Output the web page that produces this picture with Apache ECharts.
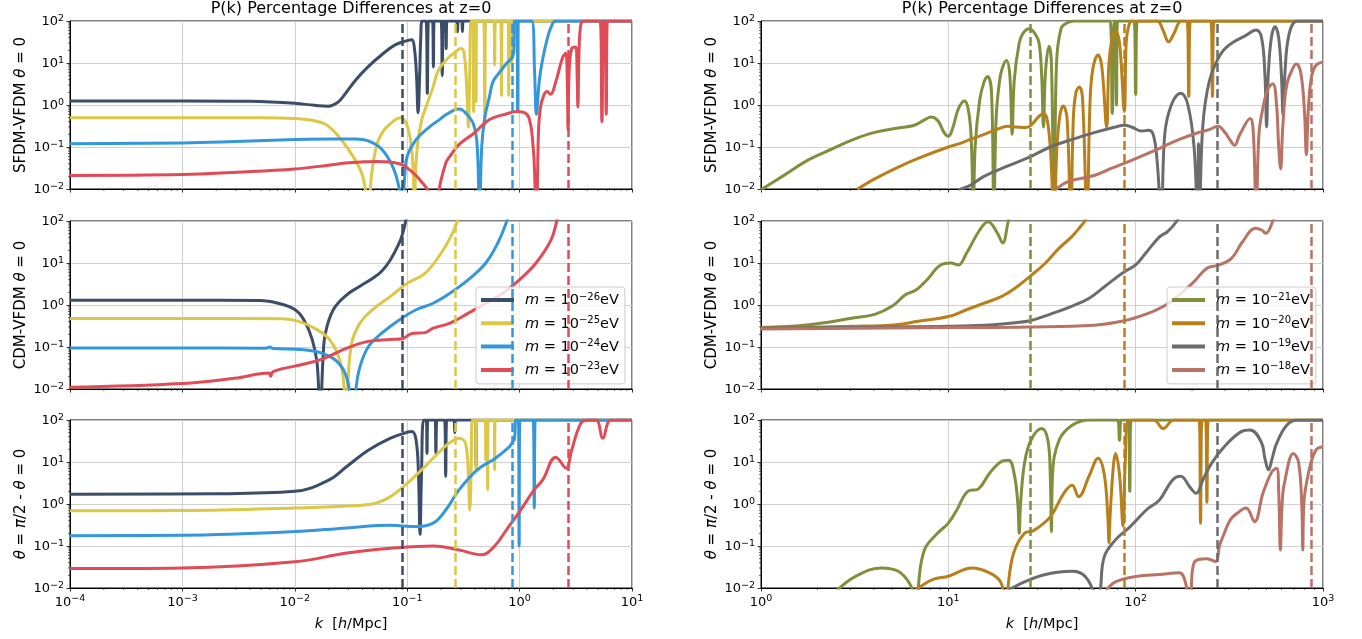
<!DOCTYPE html>
<html><head><meta charset="utf-8">
<script src="https://cdn.jsdelivr.net/npm/echarts@6/dist/echarts.min.js"></script>
<style>html,body{margin:0;padding:0;background:#fff}#c{width:1362px;height:639px}</style>
</head><body><div id="c"></div>
<script>
// ---------------- DATA (k [h/Mpc], percentage difference) ----------------
const massExpLeft = [-26, -25, -24, -23];
const massExpRight = [-21, -20, -19, -18];
const kJeansLeft = [0.0865, 0.273, 0.865, 2.73];
const kJeansRight = [27.3, 86.5, 273, 865];
const titleText = 'P(k) Percentage Differences at z=0';

// Row 1: SFDM-VFDM theta=0
const sfdm26 = [[1e-4,1.25],[1e-3,1.25],[4e-3,1.22],[0.01,1.1],[0.015,0.98],[0.02,0.94],[0.024,1.15],[0.027,1.6],[0.035,4],[0.045,8.2],[0.059,15.5],[0.078,27],[0.1,34],[0.11,36],[0.116,22],[0.121,5],[0.125,0.65],[0.129,5],[0.132,40],[0.136,100],[0.147,100],[0.151,1.9],[0.155,100],[0.168,100],[0.171,8],[0.174,100],[0.2,100],[0.205,5],[0.21,100],[0.218,100],[0.222,22],[0.226,100],[0.275,100],[0.28,55],[0.285,100],[0.305,100],[0.31,56],[0.315,100],[10,100]];
const sfdm25 = [[1e-4,0.5],[1e-3,0.5],[5e-3,0.5],[0.01,0.48],[0.015,0.42],[0.02,0.31],[0.029,0.1],[0.038,0.03],[0.042,0.012],[0.045,0.002],[0.048,0.02],[0.054,0.12],[0.062,0.25],[0.071,0.36],[0.08,0.46],[0.088,0.5],[0.095,0.43],[0.1,0.32],[0.107,0.15],[0.113,0.03],[0.116,0.002],[0.119,0.03],[0.125,0.15],[0.135,0.45],[0.144,0.77],[0.17,2.7],[0.19,6.8],[0.23,13],[0.26,17],[0.3,22],[0.32,18],[0.34,2],[0.35,0.3],[0.36,5],[0.37,100],[0.385,100],[0.39,0.7],[0.395,100],[0.405,100],[0.41,1.2],[0.415,100],[0.48,100],[0.49,0.33],[0.5,100],[0.59,100],[0.6,9],[0.61,100],[0.68,100],[0.69,1.7],[0.7,100],[0.79,100],[0.8,1.7],[0.81,100],[0.845,100],[0.85,10],[0.855,100],[10,100]];
const sfdm24 = [[1e-4,0.12],[1e-3,0.125],[3e-3,0.135],[0.01,0.15],[0.02,0.155],[0.035,0.155],[0.045,0.14],[0.059,0.09],[0.074,0.035],[0.085,0.01],[0.09,0.002],[0.095,0.02],[0.1,0.06],[0.12,0.15],[0.16,0.31],[0.19,0.43],[0.22,0.58],[0.29,0.8],[0.33,0.65],[0.39,0.34],[0.42,0.1],[0.44,0.002],[0.46,0.1],[0.49,0.5],[0.54,1.6],[0.58,3.6],[0.67,6.2],[0.77,10],[0.85,13],[0.89,20],[0.9,100],[0.95,100],[0.96,0.7],[0.97,100],[1.28,100],[1.36,6],[1.41,0.6],[1.5,4],[1.6,12],[1.75,35],[1.9,70],[2.1,100],[10,100]];
const sfdm23 = [[1e-4,0.021],[1e-3,0.022],[3e-3,0.025],[0.01,0.03],[0.02,0.037],[0.03,0.042],[0.055,0.045],[0.085,0.04],[0.11,0.026],[0.14,0.013],[0.16,0.007],[0.175,0.0005],[0.19,0.008],[0.22,0.041],[0.24,0.06],[0.29,0.115],[0.39,0.21],[0.54,0.45],[0.77,0.62],[0.95,0.7],[1.16,0.6],[1.25,0.35],[1.29,0.2],[1.35,0.04],[1.41,0.001],[1.47,0.2],[1.53,0.84],[1.64,1.7],[1.76,2.1],[1.88,1.8],[2.1,3.6],[2.4,13],[2.57,17],[2.65,5],[2.7,0.25],[2.75,5],[2.9,22],[3.16,24],[3.25,5],[3.3,0.9],[3.38,20],[3.5,80],[3.7,100],[5.2,100],[5.4,0.4],[5.6,100],[5.75,100],[5.9,0.6],[6.05,100],[10,100]];
const sfdm21 = [[1,0.0096],[1.3,0.02],[1.8,0.05],[2.4,0.09],[3.1,0.15],[4,0.22],[5.3,0.28],[6.6,0.33],[7.5,0.45],[8.1,0.52],[8.8,0.42],[9.5,0.22],[10,0.18],[10.6,0.3],[11.3,0.8],[12.2,1.25],[12.9,0.6],[13.3,0.1],[13.6,0.002],[13.9,0.1],[14.7,1.3],[15.5,3.5],[16.2,4.8],[17,2],[17.5,0.002],[18,0.5],[18.8,4],[19.5,8],[20.4,11.5],[21.3,5],[21.9,0.2],[22.5,4],[23.9,30],[25,50],[27,65],[29,50],[30.5,30],[31.5,5],[32.2,0.3],[33,6],[34.5,25],[35.5,10],[36.7,0.002],[37.8,10],[40,67],[43,90],[47,100],[73,100],[75,0.63],[77,100],[78,100],[79,1],[80,100],[98,100],[100,1.8],[102,100],[1000,100]];
const sfdm20 = [[3.26,0.0098],[4,0.017],[5.3,0.032],[7,0.055],[10,0.1],[11.5,0.12],[13,0.15],[15.5,0.2],[18,0.26],[20.8,0.31],[23,0.3],[26,0.29],[28,0.35],[30,0.5],[32,0.62],[33.5,0.5],[35,0.1],[36.7,0.002],[38,0.1],[39.5,0.6],[41,0.95],[43,0.5],[45,0.002],[46.5,0.5],[48,2],[50,2.7],[52,1.5],[55,0.002],[57,1],[59,7],[63,15.5],[66,8],[70,0.3],[72,10],[75,40],[78,56],[82,30],[87,0.7],[89,30],[92,80],[96,100],[130,100],[140,60],[150,32],[160,50],[175,100],[188,100],[192,1.6],[196,100],[252,100],[257,1.6],[262,100],[1000,100]];
const sfdm19 = [[11.3,0.0095],[13,0.012],[15.5,0.02],[20,0.033],[26.5,0.055],[35,0.1],[45.5,0.15],[60,0.22],[78,0.3],[87,0.33],[95,0.3],[108,0.24],[117,0.25],[124,0.2],[130,0.05],[137,0.002],[143,0.2],[155,1],[174,1.9],[190,1],[205,0.1],[214,0.002],[216.5,0.12],[219,0.002],[228,0.3],[247,3.6],[281,15],[316,27],[390,46],[438,61],[470,40],[490,5],[500,0.3],[510,5],[530,40],[555,73],[580,40],[600,5],[612,0.58],[625,5],[660,50],[730,100],[1000,100]];
const sfdm18 = [[37.6,0.0098],[43.6,0.015],[60,0.021],[74,0.031],[91.5,0.045],[139,0.1],[170,0.15],[209,0.21],[247,0.26],[275,0.31],[300,0.22],[318,0.15],[337,0.11],[360,0.2],[408,0.48],[425,0.2],[440,0.002],[455,0.2],[479,0.9],[510,2.5],[540,3.2],[565,1],[580,0.1],[594,0.03],[610,0.3],[640,3],[690,7.5],[720,9.5],[760,6],[795,0.8],[815,0.065],[835,0.8],[870,5],[920,9],[1000,10.5]];

// Row 2: CDM-VFDM theta=0
const cdm26 = [[1e-4,1.3],[1e-3,1.3],[4.9e-3,1.28],[7.1e-3,1.1],[0.01,0.78],[0.012,0.45],[0.0143,0.15],[0.0158,0.04],[0.0168,0.002],[0.0178,0.05],[0.0187,0.21],[0.022,0.77],[0.029,1.75],[0.038,2.8],[0.049,4.3],[0.059,6.3],[0.071,12],[0.085,30],[0.092,55],[0.097,100],[0.105,250]];
const cdm25 = [[1e-4,0.48],[1e-3,0.48],[7.7e-3,0.47],[0.01,0.43],[0.0143,0.3],[0.0204,0.15],[0.0255,0.041],[0.0275,0.01],[0.0285,0.002],[0.0295,0.01],[0.032,0.12],[0.038,0.37],[0.049,0.77],[0.071,1.6],[0.1,3.3],[0.144,5.7],[0.2,17],[0.24,39],[0.28,100],[0.3,250]];
const cdm24 = [[1e-4,0.095],[1e-3,0.095],[5.5e-3,0.094],[6e-3,0.1],[6.4e-3,0.092],[0.012,0.086],[0.0204,0.06],[0.027,0.029],[0.031,0.008],[0.033,0.002],[0.035,0.01],[0.038,0.034],[0.045,0.1],[0.059,0.21],[0.085,0.44],[0.12,0.77],[0.17,1.1],[0.24,1.9],[0.35,4],[0.5,10],[0.64,30],[0.77,100],[0.85,250]];
const cdm23 = [[1e-4,0.011],[1e-3,0.0135],[2.9e-3,0.018],[5.9e-3,0.024],[6.1e-3,0.02],[6.4e-3,0.026],[0.01,0.035],[0.017,0.05],[0.029,0.094],[0.045,0.136],[0.071,0.15],[0.092,0.16],[0.11,0.21],[0.144,0.22],[0.17,0.28],[0.24,0.37],[0.35,0.64],[0.5,1.1],[0.71,1.9],[1,4],[1.4,10],[1.9,35],[2.14,100],[2.3,250]];
const cdm21 = [[1,0.29],[1.8,0.34],[3.1,0.49],[4.05,0.6],[5,0.93],[5.9,1.75],[6.75,2.3],[7.7,4],[9.1,9],[10.3,10],[11.3,9],[12.5,17],[14.7,61],[16.3,96],[18.3,51],[19.5,30],[20.9,100],[22,250]];
const cdm20 = [[1,0.28],[3.1,0.31],[5.3,0.34],[6.9,0.41],[10,0.53],[12.5,0.77],[15.5,1.1],[19.3,1.6],[22.7,2.5],[27.3,4.8],[33,10],[38.8,22],[45.5,42],[50.7,73],[53.5,100],[56,160]];
const cdm19 = [[1,0.28],[5.3,0.3],[10,0.31],[15.5,0.33],[22.7,0.38],[27.3,0.42],[34.8,0.6],[45.5,0.93],[56.5,1.45],[70,3],[87,6.2],[100,9],[113,17],[134,42],[148,56],[166,100],[175,160]];
const cdm18 = [[1,0.27],[10,0.29],[27,0.3],[60,0.33],[87,0.42],[113,0.6],[141,0.93],[175,1.9],[205,3.6],[240,7.5],[279,9],[325,13],[372,32],[436,67],[470,61],[495,51],[540,100],[560,160]];

// Row 3: theta = pi/2 - theta = 0
const theta26 = [[1e-4,1.7],[2e-3,1.75],[0.01,2],[0.02,3.7],[0.029,7.8],[0.045,19],[0.071,37],[0.1,51],[0.11,53],[0.12,33],[0.126,5],[0.13,0.19],[0.134,5],[0.14,100],[0.148,100],[0.15,16],[0.153,100],[0.177,100],[0.18,16],[0.184,100],[0.215,100],[0.22,4.5],[0.225,100],[0.26,100],[0.265,50],[0.27,100],[0.405,100],[0.41,7.8],[0.415,100],[10,100]];
const theta25 = [[1e-4,0.69],[1e-3,0.7],[0.01,0.8],[0.029,0.9],[0.049,1],[0.071,1.5],[0.1,3.1],[0.144,7.8],[0.2,19],[0.24,29],[0.29,37],[0.33,28],[0.35,5],[0.36,0.72],[0.37,5],[0.38,100],[0.405,100],[0.41,6.5],[0.415,100],[0.495,100],[0.5,11],[0.505,100],[0.515,100],[0.52,2.2],[0.525,100],[0.595,100],[0.6,6.5],[0.605,100],[10,100]];
const theta24 = [[1e-4,0.175],[1e-3,0.18],[0.01,0.22],[0.029,0.27],[0.071,0.31],[0.12,0.29],[0.17,0.35],[0.22,0.72],[0.29,2.2],[0.42,6.5],[0.6,12],[0.81,23],[0.87,30],[0.9,35],[0.93,100],[0.975,100],[0.99,0.1],[1.005,100],[1.32,100],[1.35,0.8],[1.38,100],[10,100]];
const theta23 = [[1e-4,0.029],[1e-3,0.03],[0.01,0.042],[0.029,0.068],[0.071,0.088],[0.17,0.1],[0.29,0.08],[0.46,0.062],[0.6,0.1],[0.77,0.25],[1,0.66],[1.35,2.2],[1.6,3.7],[2.1,13],[2.6,7.1],[2.9,19],[3.5,83],[4,100],[4.8,100],[5.5,37],[6.5,100],[10,100]];
const theta21 = [[2.56,0.009],[3.2,0.019],[4.4,0.03],[5.4,0.025],[6.2,0.013],[6.6,0.006],[6.75,0.002],[6.9,0.01],[7.45,0.08],[8.75,0.2],[10,0.35],[11.1,0.72],[12.7,2],[14.5,2.3],[16.6,5.4],[19,10],[21,11],[22.5,5],[23.5,1],[23.9,0.2],[24.3,1],[25.5,9.3],[27.6,33],[31.5,63],[34,33],[35,5],[35.5,0.22],[36,5],[39,33],[46,76],[56.5,100],[80,100],[82,33],[84,100],[91.5,100],[93,2],[94.5,100],[1000,100]];
const theta20 = [[6.7,0.009],[8.3,0.016],[10,0.019],[13.4,0.03],[16.6,0.023],[19,0.014],[20,0.005],[20.3,0.002],[20.8,0.01],[22.3,0.067],[25.5,0.2],[28.4,0.23],[35.1,0.5],[41.3,1.8],[45.8,2.8],[49.6,1.5],[56.5,4.7],[63,12.3],[68,5],[71,0.5],[72,0.12],[73,0.5],[76,8],[78,16],[82,5],[85.6,0.3],[88,10],[92,100],[125,100],[140,63],[160,100],[218,100],[222,0.35],[226,100],[236,100],[240,1.1],[244,100],[1000,100]];
const theta19 = [[21,0.009],[25.5,0.014],[33,0.021],[45.8,0.025],[53.6,0.019],[60,0.007],[62.5,0.002],[65,0.01],[68,0.056],[78,0.14],[92,0.27],[114,0.72],[134,1.25],[157,3.7],[174,4.6],[195,2.5],[210,1.8],[230,4],[254,9.3],[297,23],[366,53],[408,58],[468,30],[490,12],[512,6.5],[535,12],[566,28],[642,76],[730,100],[1000,100]];
const theta18 = [[70,0.009],[78,0.014],[102,0.019],[134,0.021],[171,0.023],[184,0.014],[190,0.005],[194,0.002],[198,0.01],[205,0.04],[240,0.05],[267,0.043],[280,0.1],[297,0.2],[320,0.42],[348,0.6],[388,0.8],[431,0.38],[478,1.8],[534,5.9],[566,7.1],[580,2],[592,0.08],[605,1],[622,3.1],[695,16],[740,10],[770,1],[780,0.08],[790,1],[836,5.4],[915,19],[1000,23]];

// ---------------- CHART ----------------
const FONT = 'DejaVu Sans';
const colorsLeft = ['#3b4d69', '#dcc747', '#3597db', '#e14b56'];
const colorsRight = ['#7f8f3b', '#b97f1b', '#6c6c6c', '#b97364'];
const rowsData = [
  [[sfdm26, sfdm25, sfdm24, sfdm23], [sfdm21, sfdm20, sfdm19, sfdm18]],
  [[cdm26, cdm25, cdm24, cdm23], [cdm21, cdm20, cdm19, cdm18]],
  [[theta26, theta25, theta24, theta23], [theta21, theta20, theta19, theta18]]
];
const colLeft = [70, 761], colW = 562, rowTop = [21, 221, 420], rowH = 168;
const xRange = [[1e-4, 10], [1, 1000]];
const exps = [massExpLeft, massExpRight];
const cols = [colorsLeft, colorsRight];
const kj = [kJeansLeft, kJeansRight];
const nameOf = e => 'm' + e;
const minus = e => (e < 0 ? '\u2212' + (-e) : '' + e);

const tickRich = {
  b: {fontSize: 13, fontFamily: FONT, color: '#000', lineHeight: 15, verticalAlign: 'bottom'},
  s: {fontSize: 9.5, fontFamily: FONT, color: '#000', lineHeight: 11, padding: [0, 0, 7, 0], verticalAlign: 'top'}
};
const tickFmt = v => { const e = Math.round(Math.log10(v)); return '{b|10}{s|' + minus(e) + '}'; };

const grids = [], xAxes = [], yAxes = [], series = [];
const yNames = [
  'SFDM-VFDM {i|θ} = 0',
  'CDM-VFDM {i|θ} = 0',
  '{i|θ} = {i|π}/2 - {i|θ} = 0'
];
for (let r = 0; r < 3; r++) {
  for (let c = 0; c < 2; c++) {
    const gi = r * 2 + c;
    grids.push({left: colLeft[c], top: rowTop[r], width: colW, height: rowH, show: true,
      borderColor: '#000', borderWidth: 1, backgroundColor: 'transparent', outerBoundsMode: 'none', containLabel: false});
    xAxes.push({type: 'log', logBase: 10, gridIndex: gi, min: xRange[c][0], max: xRange[c][1],
      axisLine: {show: true, onZero: false, lineStyle: {color: '#000', width: 1}},
      axisTick: {show: true, length: 3.5, inside: false, lineStyle: {color: '#000', width: 0.8}},
      minorTick: {show: false}, minorSplitLine: {show: false},
      axisLabel: {show: r === 2, formatter: tickFmt, rich: tickRich, margin: 6, showMinLabel: true, showMaxLabel: true, hideOverlap: false},
      splitLine: {show: true, lineStyle: {color: '#cbcbcb', width: 0.9}},
      name: r === 2 ? '{i|k}  [{i|h}/Mpc]' : '', nameLocation: 'middle', nameGap: 29,
      nameTextStyle: {fontSize: 14.5, fontFamily: FONT, color: '#000',
        rich: {i: {fontStyle: 'italic', fontSize: 14.5, fontFamily: FONT, color: '#000'}}}
    });
    yAxes.push({type: 'log', logBase: 10, gridIndex: gi, min: 0.01, max: 100,
      axisLine: {show: true, onZero: false, lineStyle: {color: '#000', width: 1}},
      axisTick: {show: true, length: 3.5, inside: false, lineStyle: {color: '#000', width: 0.8}},
      minorTick: {show: false}, minorSplitLine: {show: false},
      axisLabel: {show: true, formatter: tickFmt, rich: tickRich, margin: 6, showMinLabel: true, showMaxLabel: true, hideOverlap: false},
      splitLine: {show: true, lineStyle: {color: '#cbcbcb', width: 0.9}},
      name: yNames[r], nameLocation: 'middle', nameRotate: 90, nameGap: 41,
      nameTextStyle: {fontSize: 15, fontFamily: FONT, color: '#000',
        rich: {i: {fontStyle: 'italic', fontSize: 15, fontFamily: FONT, color: '#000'}}}
    });
    for (let j = 0; j < 4; j++) {
      const col = cols[c][j];
      series.push({type: 'line', name: nameOf(exps[c][j]), xAxisIndex: gi, yAxisIndex: gi,
        data: rowsData[r][c][j], symbol: 'none', showSymbol: false, smooth: 0.4,
        clip: true, animation: false, emphasis: {disabled: true},
        lineStyle: {color: col, width: 3, join: 'round'}, itemStyle: {color: col},
        markLine: {silent: true, symbol: 'none', animation: false, label: {show: false},
          lineStyle: {color: col, width: 2.5, type: [9, 4]}, emphasis: {disabled: true},
          data: [{xAxis: kj[c][j]}]}
      });
    }
  }
}

const legRich = {
  i: {fontStyle: 'italic', fontSize: 14.5, fontFamily: FONT, color: '#000', lineHeight: 16, verticalAlign: 'bottom', padding: [0, 0, 0, 6]},
  t: {fontSize: 14.5, fontFamily: FONT, color: '#000', lineHeight: 16, verticalAlign: 'bottom'},
  s: {fontSize: 10, fontFamily: FONT, color: '#000', lineHeight: 11, padding: [0, 0, 7, 0], verticalAlign: 'top'}
};
const legFmt = n => { const e = parseInt(n.slice(1), 10); return '{i|m}{t| = 10}{s|' + minus(e) + '}{t|eV}'; };
const mkLegend = (c, left) => ({
  data: exps[c].map(nameOf), orient: 'vertical', left: left, top: 287, padding: [5, 6, 5, 5], itemGap: 6.3,
  itemWidth: 33, itemHeight: 4, icon: 'rect', selectedMode: false,
  backgroundColor: 'rgba(255,255,255,0.8)', borderColor: '#cccccc', borderWidth: 1, borderRadius: 3,
  formatter: legFmt, textStyle: {fontFamily: FONT, fontSize: 14.5, color: '#000', rich: legRich}
});

const chart = echarts.init(document.getElementById('c'), null, {renderer: 'canvas'});
chart.setOption({
  animation: false,
  backgroundColor: '#fff',
  title: [
    {text: titleText, left: colLeft[0] + colW / 2, top: 1, textAlign: 'center', padding: 0,
      textStyle: {fontSize: 16, fontWeight: 'normal', fontFamily: FONT, color: '#000'}},
    {text: titleText, left: colLeft[1] + colW / 2, top: 1, textAlign: 'center', padding: 0,
      textStyle: {fontSize: 16, fontWeight: 'normal', fontFamily: FONT, color: '#000'}}
  ],
  legend: [mkLegend(0, 476), mkLegend(1, 1167)],
  grid: grids, xAxis: xAxes, yAxis: yAxes, series: series
});

// minor ticks (matplotlib-style 2..9 per decade), positioned through the axes' own scales
const g = [];
for (let gi = 0; gi < 6; gi++) {
  const c = gi % 2;
  const xlo = Math.round(Math.log10(xRange[c][0])), xhi = Math.round(Math.log10(xRange[c][1]));
  for (let d = xlo; d < xhi; d++) for (let m = 2; m <= 9; m++) {
    const p = chart.convertToPixel({gridIndex: gi}, [m * Math.pow(10, d), 0.01]);
    g.push({type: 'line', silent: true, shape: {x1: p[0], y1: p[1], x2: p[0], y2: p[1] + 2}, style: {stroke: '#000', lineWidth: 0.6}});
  }
  for (let d = -2; d < 2; d++) for (let m = 2; m <= 9; m++) {
    const p = chart.convertToPixel({gridIndex: gi}, [xRange[c][0], m * Math.pow(10, d)]);
    g.push({type: 'line', silent: true, shape: {x1: p[0] - 2, y1: p[1], x2: p[0], y2: p[1]}, style: {stroke: '#000', lineWidth: 0.6}});
  }
}
chart.setOption({graphic: {elements: g}});
</script></body></html>
